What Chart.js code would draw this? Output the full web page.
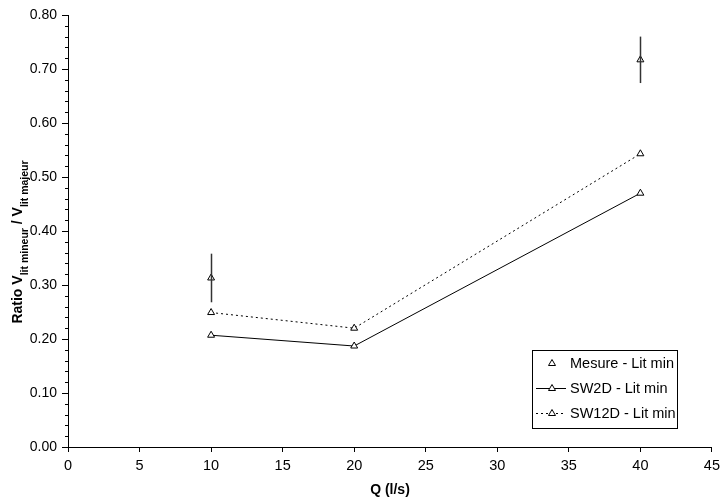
<!DOCTYPE html>
<html>
<head>
<meta charset="utf-8">
<script src="https://cdn.jsdelivr.net/npm/chart.js@4.4.1/dist/chart.umd.min.js"></script>
<style>
  html, body {margin: 0; padding: 0; background: #fff;}
  #wrap {width: 725px; height: 504px;}
</style>
</head>
<body>
<div id="wrap"><canvas id="grafico" width="725" height="504"></canvas></div>
<script>
// Données
const debitsMesure = [10, 40];
const ratioMesure = [0.313, 0.717];
const erreurMesure = [0.045, 0.043];

const debitsModele = [10, 20, 40];
const ratioSW2D = [0.207, 0.187, 0.470];
const ratioSW12D = [0.249, 0.220, 0.543];

const etiquettes = ["Mesure - Lit min", "SW2D - Lit min", "SW12D - Lit min"];

const police = "'Liberation Sans', Arial, sans-serif";

function points(xs, ys) {
    return xs.map((x, i) => ({x: x, y: ys[i]}));
}

const styleTriangle = {
    pointStyle: "triangle",
    pointRadius: 4,
    pointBackgroundColor: "#fff",
    pointBorderColor: "#000",
    pointBorderWidth: 1,
    borderColor: "#000",
    borderWidth: 1
};

// Barres d'erreur des mesures
const barresErreur = {
    id: "barresErreur",
    afterDatasetsDraw(chart) {
        const ctx = chart.ctx;
        const x = chart.scales.x;
        const y = chart.scales.y;
        ctx.save();
        ctx.strokeStyle = "#333";
        ctx.lineWidth = 1.5;
        debitsMesure.forEach((q, i) => {
            const px = Math.round(x.getPixelForValue(q)) + 0.5;
            ctx.beginPath();
            ctx.moveTo(px, y.getPixelForValue(ratioMesure[i] + erreurMesure[i]));
            ctx.lineTo(px, y.getPixelForValue(ratioMesure[i] - erreurMesure[i]));
            ctx.stroke();
        });
        ctx.restore();
    }
};

// Petites graduations, titres des axes et légende
const habillage = {
    id: "habillage",
    afterDraw(chart) {
        const ctx = chart.ctx;
        const y = chart.scales.y;
        const zone = chart.chartArea;
        ctx.save();

        // graduations secondaires axe Y
        ctx.strokeStyle = "#000";
        ctx.lineWidth = 1;
        for (let v = 0.02; v < 0.8; v += 0.02) {
            const py = Math.round(y.getPixelForValue(v)) + 0.5;
            ctx.beginPath();
            ctx.moveTo(zone.left - 3, py);
            ctx.lineTo(zone.left, py);
            ctx.stroke();
        }

        // titre axe X
        ctx.fillStyle = "#000";
        ctx.font = "bold 14px " + police;
        ctx.textAlign = "center";
        ctx.textBaseline = "middle";
        ctx.fillText("Q (l/s)", (zone.left + zone.right) / 2, 490);

        // titre axe Y avec indices
        const morceaux = [
            {t: "Ratio V", f: "bold 14px "},
            {t: "lit mineur", f: "bold 10.5px ", sub: true},
            {t: " / V", f: "bold 14px "},
            {t: "lit majeur", f: "bold 10.5px ", sub: true}
        ];
        let largeur = 0;
        morceaux.forEach(m => {ctx.font = m.f + police; m.w = ctx.measureText(m.t).width; largeur += m.w;});
        ctx.translate(22, 242);
        ctx.rotate(-Math.PI / 2);
        ctx.textAlign = "left";
        ctx.textBaseline = "alphabetic";
        let cx = -largeur / 2;
        morceaux.forEach(m => {
            ctx.font = m.f + police;
            ctx.fillText(m.t, cx, m.sub ? 5.5 : 0);
            cx += m.w;
        });
        ctx.setTransform(1, 0, 0, 1, 0, 0);

        // légende
        const lx = 532, ly = 350, lw = 145, lh = 78;
        ctx.fillStyle = "#fff";
        ctx.fillRect(lx, ly, lw, lh);
        ctx.strokeStyle = "#000";
        ctx.lineWidth = 1;
        ctx.strokeRect(lx + 0.5, ly + 0.5, lw, lh);
        ctx.font = "14.5px " + police;
        ctx.textAlign = "left";
        ctx.textBaseline = "middle";
        chart.data.datasets.forEach((ds, i) => {
            const py = Math.round(ly + 13 + i * 25) + 0.5;
            if (ds.showLine !== false) {
                ctx.beginPath();
                ctx.setLineDash(ds.borderDash || []);
                ctx.moveTo(lx + 4, py);
                ctx.lineTo(lx + 34, py);
                ctx.stroke();
                ctx.setLineDash([]);
            }
            ctx.beginPath();
            ctx.moveTo(lx + 20, py - 4);
            ctx.lineTo(lx + 23.5, py + 2);
            ctx.lineTo(lx + 16.5, py + 2);
            ctx.closePath();
            ctx.fillStyle = "#fff";
            ctx.fill();
            ctx.stroke();
            ctx.fillStyle = "#000";
            ctx.fillText(ds.label, lx + 38, py);
        });
        ctx.restore();
    }
};

new Chart(document.getElementById("grafico"), {
    type: "scatter",
    data: {
        datasets: [
            Object.assign({label: etiquettes[0], data: points(debitsMesure, ratioMesure), showLine: false}, styleTriangle),
            Object.assign({label: etiquettes[1], data: points(debitsModele, ratioSW2D), showLine: true}, styleTriangle),
            Object.assign({label: etiquettes[2], data: points(debitsModele, ratioSW12D), showLine: true, borderDash: [2, 3]}, styleTriangle)
        ]
    },
    options: {
        responsive: false,
        animation: false,
        layout: {padding: {left: 0, right: 9, top: 15, bottom: 0}},
        plugins: {legend: {display: false}, tooltip: {enabled: false}},
        scales: {
            x: {
                type: "linear",
                min: 0, max: 45,
                ticks: {stepSize: 5, color: "#000", font: {family: police, size: 14.5}, padding: 5},
                grid: {display: true, drawOnChartArea: false, tickLength: 5, color: "#000"},
                border: {color: "#000", width: 1},
                afterFit(scale) {scale.height = 57;}
            },
            y: {
                min: 0, max: 0.8,
                ticks: {stepSize: 0.1, color: "#000", font: {family: police, size: 14}, padding: 5,
                    callback: v => v.toFixed(2)},
                grid: {display: true, drawOnChartArea: false, tickLength: 6, color: "#000"},
                border: {color: "#000", width: 1},
                afterFit(scale) {scale.width = 68;}
            }
        }
    },
    plugins: [barresErreur, habillage]
});
</script>
</body>
</html>
